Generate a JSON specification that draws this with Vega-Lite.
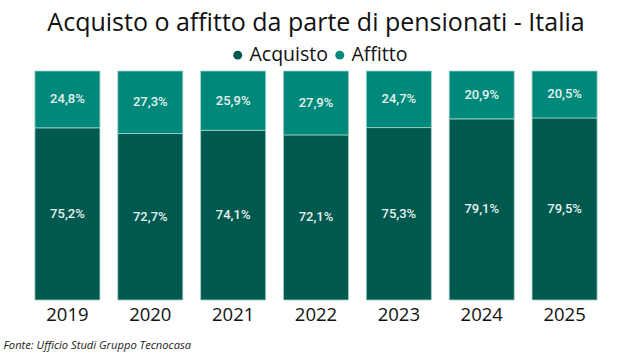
{
  "$schema": "https://vega.github.io/schema/vega-lite/v6.json",
  "autosize": {"type": "none"},
  "width": 580,
  "height": 229,
  "padding": {"left": 26, "top": 71, "right": 28, "bottom": 62},
  "background": "white",
  "config": {
    "view": {"stroke": null},
    "locale": {"number": {"decimal": ",", "thousands": ".", "grouping": [3], "currency": ["€", ""]}}
  },
  "title": {
    "text": "Acquisto o affitto da parte di pensionati - Italia",
    "font": "Open Sans",
    "fontSize": 25,
    "fontWeight": "normal",
    "color": "#111111",
    "anchor": "middle",
    "offset": 9
  },
  "data": {
    "values": [
      {"anno": "2019", "tipo": "Acquisto", "quota": 0.752},
      {"anno": "2019", "tipo": "Affitto", "quota": 0.248},
      {"anno": "2020", "tipo": "Acquisto", "quota": 0.727},
      {"anno": "2020", "tipo": "Affitto", "quota": 0.273},
      {"anno": "2021", "tipo": "Acquisto", "quota": 0.741},
      {"anno": "2021", "tipo": "Affitto", "quota": 0.259},
      {"anno": "2022", "tipo": "Acquisto", "quota": 0.721},
      {"anno": "2022", "tipo": "Affitto", "quota": 0.279},
      {"anno": "2023", "tipo": "Acquisto", "quota": 0.753},
      {"anno": "2023", "tipo": "Affitto", "quota": 0.247},
      {"anno": "2024", "tipo": "Acquisto", "quota": 0.791},
      {"anno": "2024", "tipo": "Affitto", "quota": 0.209},
      {"anno": "2025", "tipo": "Acquisto", "quota": 0.795},
      {"anno": "2025", "tipo": "Affitto", "quota": 0.205}
    ]
  },
  "encoding": {
    "x": {
      "field": "anno",
      "type": "nominal",
      "scale": {"paddingInner": 0.215, "paddingOuter": 0.1075},
      "axis": {
        "labelAngle": 0,
        "labelFont": "Open Sans",
        "labelFontSize": 18.5,
        "labelColor": "#111111",
        "labelPadding": 5,
        "ticks": false,
        "domain": false,
        "title": "Fonte: Ufficio Studi Gruppo Tecnocasa",
        "titleFont": "Open Sans",
        "titleFontSize": 11.2,
        "titleFontStyle": "italic",
        "titleFontWeight": "normal",
        "titleColor": "#222222",
        "titleAnchor": "start",
        "titleAlign": "left",
        "titleX": -23,
        "titleY": 39
      }
    },
    "y": {
      "field": "quota",
      "type": "quantitative",
      "stack": "zero",
      "scale": {"domain": [0, 1]},
      "axis": null
    }
  },
  "layer": [
    {
      "mark": {"type": "bar", "stroke": "#9fd3c9", "strokeWidth": 0.8},
      "encoding": {
        "color": {
          "field": "tipo",
          "type": "nominal",
          "scale": {"domain": ["Acquisto", "Affitto"], "range": ["#00594f", "#00897b"]},
          "legend": {
            "title": null,
            "orient": "none",
            "direction": "horizontal",
            "legendX": 202,
            "legendY": -26,
            "symbolType": "circle",
            "symbolSize": 80,
            "symbolStrokeWidth": 0,
            "labelFont": "Open Sans",
            "labelFontSize": 19.5,
            "labelColor": "#111111",
            "labelOffset": 2,
            "columnPadding": 2
          }
        },
        "order": {"field": "tipo", "sort": "ascending"}
      }
    },
    {
      "mark": {"type": "text", "font": "Roboto", "fontSize": 13, "fontWeight": 500, "color": "#e6f2ef", "baseline": "middle"},
      "encoding": {
        "y": {"field": "quota", "type": "quantitative", "stack": "zero", "bandPosition": 0.5},
        "text": {"field": "quota", "type": "quantitative", "format": ".1%"},
        "detail": {"field": "tipo"},
        "order": {"field": "tipo", "sort": "ascending"}
      }
    }
  ]
}
